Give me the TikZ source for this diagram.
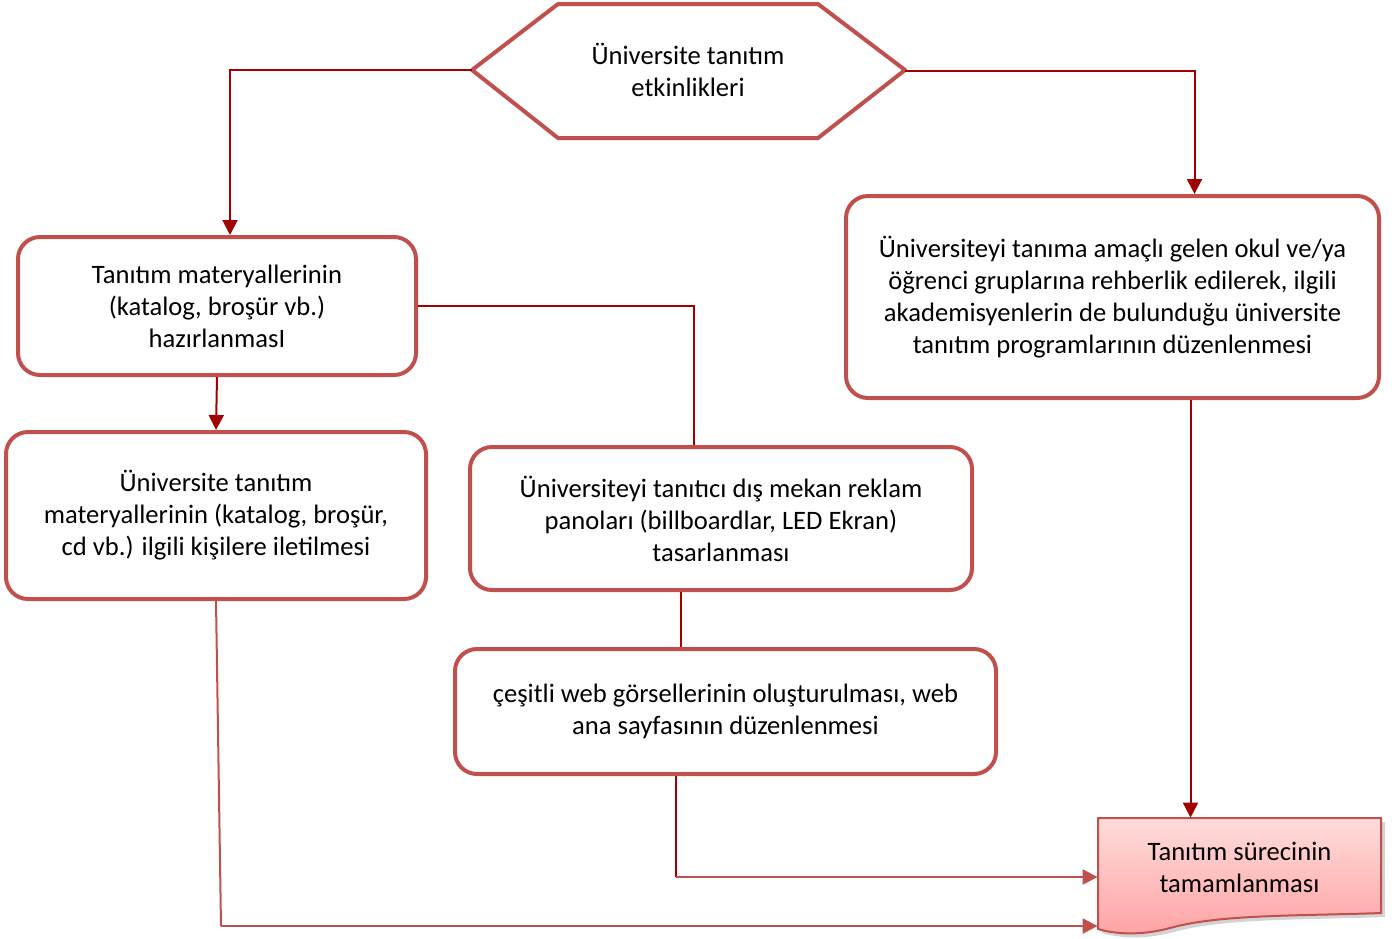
\documentclass[tikz,border=0pt]{standalone}
\usepackage{fontspec}
\setmainfont{Carlito}
\usepackage{tikz}
\usetikzlibrary{arrows.meta}
\usetikzlibrary{shadows}
\definecolor{boxred}{HTML}{C0504D}
\definecolor{linkred}{HTML}{A00000}

\begin{document}
\begin{tikzpicture}[x=0.5pt, y=-0.5pt,
    >={Triangle[length=7.5pt,width=7.5pt]},
    every node/.style={font=\fontsize{13.3}{16}\selectfont, align=center},
    stepbox/.style={draw=boxred, line width=2pt, rounded corners=11pt, fill=white},
    link/.style={draw=linkred, line width=1pt},
    link2/.style={draw=boxred, line width=1pt}]
                \useasboundingbox (0,0) rectangle (1400,938);

                % Start hexagon
                \draw[boxred, line width=2pt, line join=round]
                    (472,70) -- (558,4) -- (818,4) -- (905,70) -- (818,138) -- (558,138) -- cycle;
                \coordinate (hexL) at (472,70);
                \coordinate (hexR) at (905,71);
                \node (start) at (688,70) {Üniversite tanıtım\\etkinlikleri};

                % Process boxes
                \node[stepbox, minimum width=199pt, minimum height=69pt] (prep) at (217,306)
                    {Tanıtım materyallerinin\\(katalog, broşür vb.)\\hazırlanmasI};
                \node[stepbox, minimum width=210pt, minimum height=83.5pt] (send) at (216,515.5)
                    {Üniversite tanıtım\\materyallerinin (katalog, broşür,\\cd vb.) ilgili kişilere iletilmesi};
                \node[stepbox, minimum width=251pt, minimum height=71.5pt] (board) at (721,518.5)
                    {Üniversiteyi tanıtıcı dış mekan reklam\\panoları (billboardlar, LED Ekran)\\tasarlanması};
                \node[stepbox, minimum width=270.5pt, minimum height=62.5pt] (web) at (725.5,711.5)
                    {çeşitli web görsellerinin oluşturulması, web\\ana sayfasının düzenlenmesi};
                \node[stepbox, minimum width=266.5pt, minimum height=101pt] (visit) at (1112.5,297)
                    {Üniversiteyi tanıma amaçlı gelen okul ve/ya\\öğrenci gruplarına rehberlik edilerek, ilgili\\akademisyenlerin de bulunduğu üniversite\\tanıtım programlarının düzenlenmesi};

                % End document
                \draw[boxred, line width=1pt, top color=red!14, bottom color=red!36,
                      drop shadow={opacity=0.35, shadow xshift=2pt, shadow yshift=-2pt}]
                    (1098,818) -- (1381,818) -- (1381,913)
                    .. controls (1300,916) and (1220,914) .. (1170,928)
                    .. controls (1140,936) and (1115,934) .. (1098,929) -- cycle;
                \node[minimum width=141.5pt, minimum height=59pt] (finish) at (1239.5,877) {};
                \node (finishtxt) at (1239.5,867) {Tanıtım sürecinin\\tamamlanması};

                % Connectors
                \draw[link, ->] (hexL) -| ([xshift=6.5pt]prep.north);
                \draw[link, ->] (hexR) -| ([xshift=41pt]visit.north);
                \draw[link, ->] (prep.south) -- (send.north);
                \draw[link] (prep.east) -| ([xshift=-13.5pt]board.north);
                \draw[link] ([xshift=-20pt]board.south) -- ([xshift=-20pt]board.south |- web.north);
                \draw[link, ->] ([xshift=39pt]visit.south) -- ([xshift=39pt]visit.south |- finish.north);
                \coordinate (webOut) at ([xshift=-25pt]web.south);
                \draw[link] (webOut) -- (webOut |- finish.west);
                \draw[link2, ->] (webOut |- finish.west) -- (finish.west);
                \coordinate (sendTurn) at (221,926);
                \draw[link2] (send.south) -- (sendTurn);
                \draw[link2, ->] (sendTurn) -- (sendTurn -| finish.west);
\end{tikzpicture}
\end{document}
